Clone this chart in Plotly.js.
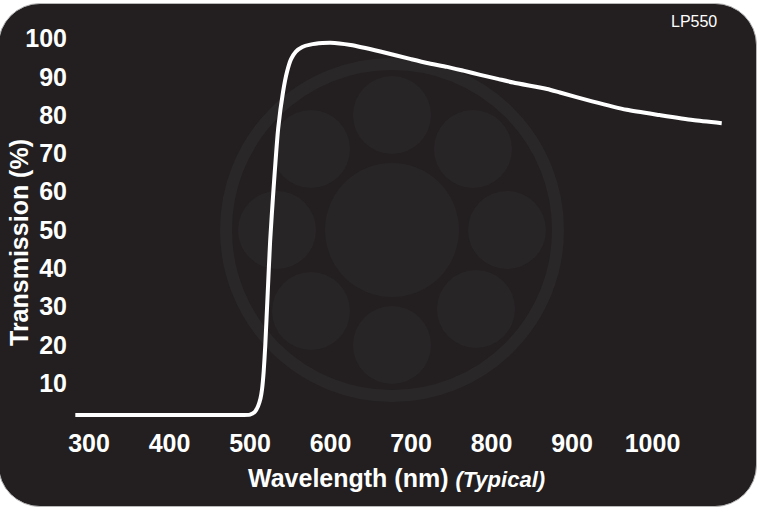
<!DOCTYPE html>
<html>
<head>
<meta charset="utf-8">
<script src="https://cdn.plot.ly/plotly-3.0.1.min.js"></script>
<style>
  html, body { margin: 0; padding: 0; background: #ffffff; width: 760px; height: 511px; overflow: hidden; }
  #bg { position: absolute; left: -2px; top: 3px; width: 759px; height: 504px; background: #231f20; border-radius: 42px; border: 1px solid #b8b8b8; box-sizing: border-box; }
  #chart { position: absolute; left: 0; top: 0; width: 760px; height: 511px; }
</style>
</head>
<body>
<div id="bg"></div>
<div id="chart"></div>
<script>
// Data
const wavelength = [283, 300, 400, 480, 500, 506, 510, 513, 515, 517, 519, 522, 525, 529, 535, 541, 546, 551, 557, 565, 575, 590, 600, 625, 662, 700, 720, 745, 765, 786, 805, 827, 869, 885, 925, 968, 1009, 1050, 1086];
const transmission = [1.7, 1.7, 1.7, 1.7, 1.8, 2.5, 4, 6, 8.5, 13, 20, 33.6, 47, 60, 76.5, 86, 91.3, 94.6, 96.6, 97.8, 98.4, 98.8, 98.9, 98.3, 96.6, 94.6, 93.6, 92.6, 91.6, 90.5, 89.6, 88.5, 86.8, 85.9, 83.6, 81.4, 80, 78.7, 77.9];
const xTicks = [300, 400, 500, 600, 700, 800, 900, 1000];
const yTicks = [10, 20, 30, 40, 50, 60, 70, 80, 90, 100];
const filterLabel = "LP550";

// Plot area in pixels
const L = 75, R = 725, T = 35, B = 418;
const W = 760, H = 511;
const px2x = p => (p - L) / (R - L);
const py2y = p => (B - p) / (B - T);

// watermark (logo) decorations
const wmCenter = [392, 230];
const ringColor = '#2a2729';
const dotColor = '#282527';
const shapes = [];
function circ(cx, cy, r, fill, lw, lc) {
  shapes.push({type: 'circle', xref: 'paper', yref: 'paper', layer: 'below',
    x0: px2x(cx - r), x1: px2x(cx + r), y0: py2y(cy + r), y1: py2y(cy - r),
    fillcolor: fill, line: {width: lw, color: lc}});
}
circ(wmCenter[0], wmCenter[1], 166, 'rgba(0,0,0,0)', 12, ringColor);
circ(wmCenter[0], wmCenter[1], 67, dotColor, 0, 'rgba(0,0,0,0)');
const dotOffsets = [[0,-115],[0,115],[-115,0],[115,0],[-81,-81],[81,-81],[-81,81],[84,79]];
dotOffsets.forEach(o => circ(wmCenter[0] + o[0], wmCenter[1] + o[1], 39, dotColor, 0, 'rgba(0,0,0,0)'));

const boldFont = {family: 'Liberation Sans, Arial, sans-serif', size: 25, color: '#ffffff', weight: 'bold'};

const trace = {
  x: wavelength, y: transmission, type: 'scatter', mode: 'lines',
  line: {color: '#ffffff', width: 4, shape: 'spline', smoothing: 0.6},
  cliponaxis: false,
  hoverinfo: 'skip'
};

const layout = {
  width: W, height: H,
  margin: {l: L, r: W - R, t: T, b: H - B},
  paper_bgcolor: 'rgba(0,0,0,0)', plot_bgcolor: 'rgba(0,0,0,0)',
  showlegend: false,
  xaxis: {
    range: [300 + (L - 89) / 0.805, 300 + (R - 89) / 0.805],
    tickvals: xTicks, ticktext: xTicks.map(String),
    showgrid: false, zeroline: false, showline: false,
    ticks: 'outside', ticklen: 3, tickcolor: 'rgba(0,0,0,0)',
    tickfont: boldFont, fixedrange: true
  },
  yaxis: {
    range: [(421.5 - B) / 3.83, (421.5 - T) / 3.83],
    tickvals: yTicks, ticktext: yTicks.map(String),
    showgrid: false, zeroline: false, showline: false,
    ticks: 'outside', ticklen: 2, tickcolor: 'rgba(0,0,0,0)',
    tickfont: boldFont, fixedrange: true
  },
  shapes: shapes,
  annotations: [
    {text: 'Transmission (%)', xref: 'paper', yref: 'paper', x: px2x(19), y: py2y(243),
     xanchor: 'center', yanchor: 'middle', textangle: -90, showarrow: false, font: boldFont},
    {text: 'Wavelength (nm) <i><span style="font-size:22px">(Typical)</span></i>', xref: 'paper', yref: 'paper',
     x: px2x(396), y: py2y(478), xanchor: 'center', yanchor: 'middle', showarrow: false, font: boldFont},
    {text: filterLabel, xref: 'paper', yref: 'paper', x: px2x(719), y: py2y(22),
     xanchor: 'right', yanchor: 'middle', showarrow: false,
     font: {family: 'Liberation Sans, Arial, sans-serif', size: 16, color: '#ffffff'}}
  ]
};

Plotly.newPlot('chart', [trace], layout, {displayModeBar: false, staticPlot: true});
</script>
</body>
</html>
